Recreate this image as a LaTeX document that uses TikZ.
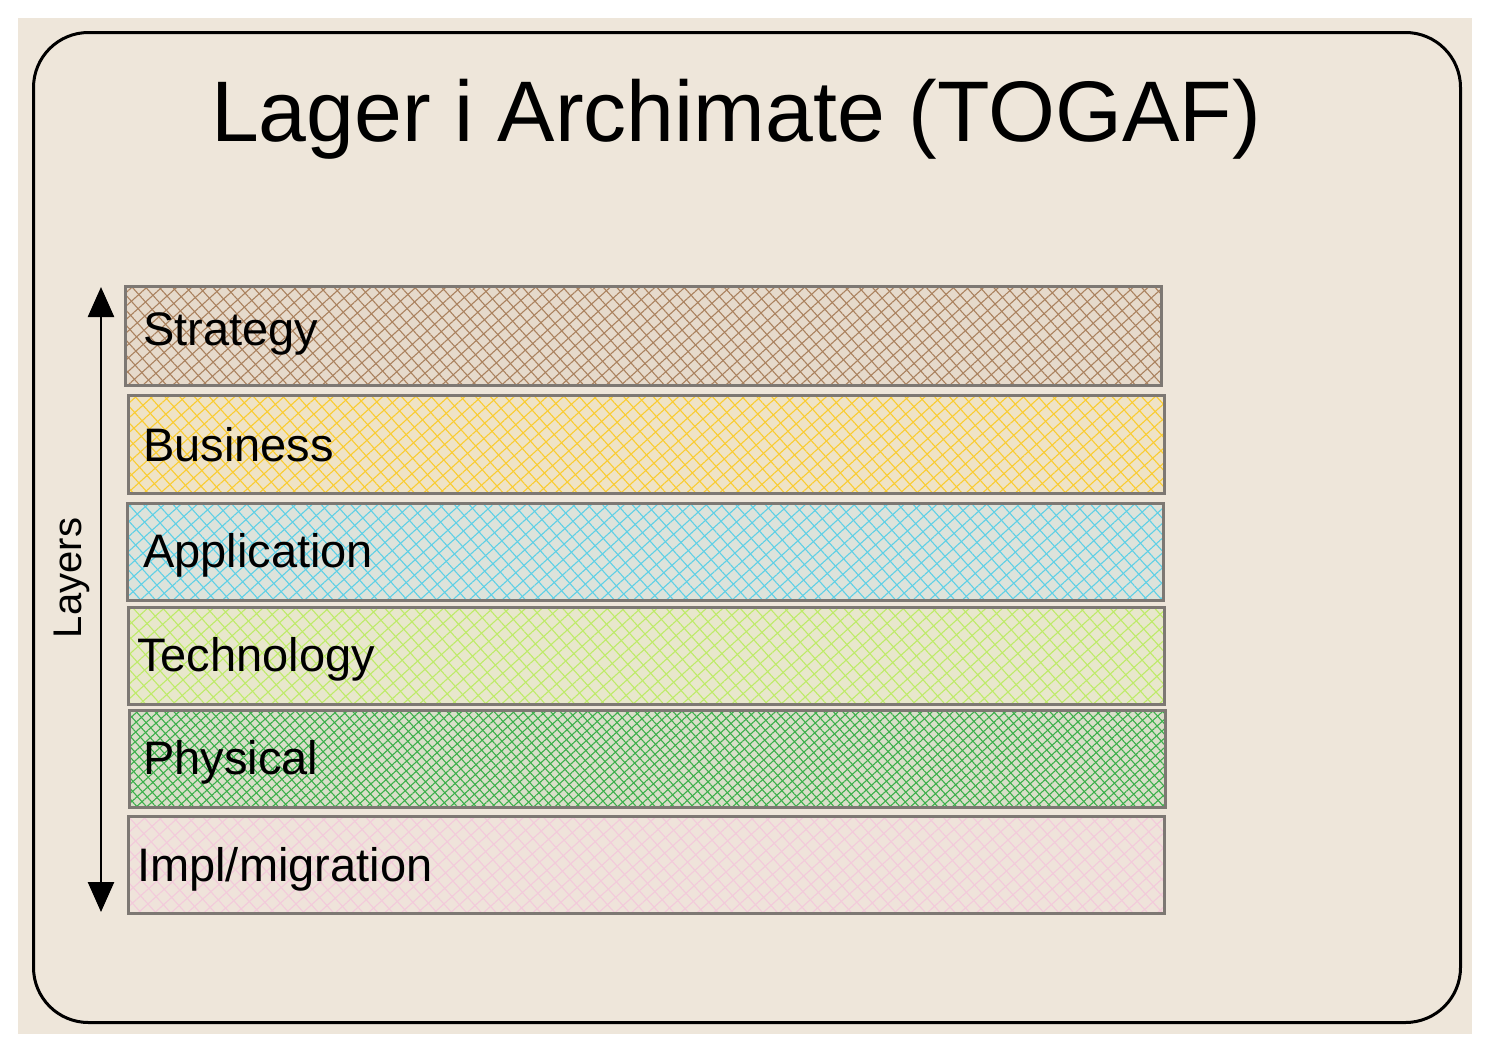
\documentclass[tikz,border=0pt]{standalone}
\usepackage{fontspec}
\setmainfont{Liberation Sans}
\usetikzlibrary{patterns.meta,arrows.meta}
\definecolor{bg}{RGB}{238,230,218}
\definecolor{edge}{RGB}{125,120,115}
\definecolor{cstrat}{RGB}{170,130,95}
\definecolor{cbus}{RGB}{250,204,50}
\definecolor{capp}{RGB}{95,208,230}
\definecolor{ctech}{RGB}{190,235,105}
\definecolor{cphys}{RGB}{60,175,75}
\definecolor{cimpl}{RGB}{245,190,218}
\tikzset{
  band/.style n args={3}{anchor=north west, inner sep=0pt, draw=edge, line width=2.6pt,
    minimum width=1036pt, minimum height=#2,
    preaction={fill=#1!12!bg},
    preaction={pattern={Lines[angle=42,distance=#3,line width=1.1pt]}, pattern color=#1},
    preaction={pattern={Lines[angle=-48,distance=#3,line width=1.1pt]}, pattern color=#1}},
  lbl/.style={anchor=base west, inner sep=0pt, font=\fontsize{47}{56}\selectfont},
}
\begin{document}
\begin{tikzpicture}[x=1pt,y=-1pt]
\useasboundingbox (0,0) rectangle (1490,1052);
\fill[bg] (18,18) rectangle (1472,1034);
\node[draw=black, line width=3pt, rounded corners=55pt, minimum width=1427pt, minimum height=990pt, anchor=north west, inner sep=0pt] (frame) at (32,31) {};
\node[anchor=base, inner sep=0pt, font=\fontsize{86}{100}\selectfont] (title) at (736,141) {Lager i Archimate (TOGAF)};

\node[band={cstrat}{99pt}{10pt}] (s) at (124,285) {};
\node[band={cbus}{98pt}{11pt}] (b) at (127,394) {};
\node[band={capp}{97pt}{11pt}] (a) at (126,502) {};
\node[band={ctech}{97pt}{11pt}] (t) at (127,606) {};
\node[band={cphys}{97pt}{7pt}] (p) at (128,709) {};
\node[band={cimpl!70!bg}{97pt}{11pt}] (i) at (127,815) {};

\node[lbl] (ls) at (143,345) {Strategy};
\node[lbl] (lb) at (143,461) {Business};
\node[lbl] (la) at (143,567) {Application};
\node[lbl] (lt) at (137,671) {Technology};
\node[lbl] (lp) at (143,774) {Physical};
\node[lbl] (li) at (137,881) {Impl/migration};

\coordinate (atop) at (101,287);
\coordinate (abot) at (101,912);
\draw[line width=2.5pt, {Triangle[length=30pt,width=26pt]}-{Triangle[length=30pt,width=26pt]}] (atop) -- (abot);
\node[rotate=90, inner sep=0pt, font=\fontsize{40}{48}\selectfont] (layers) at (72,578) {Layers};
\end{tikzpicture}
\end{document}
